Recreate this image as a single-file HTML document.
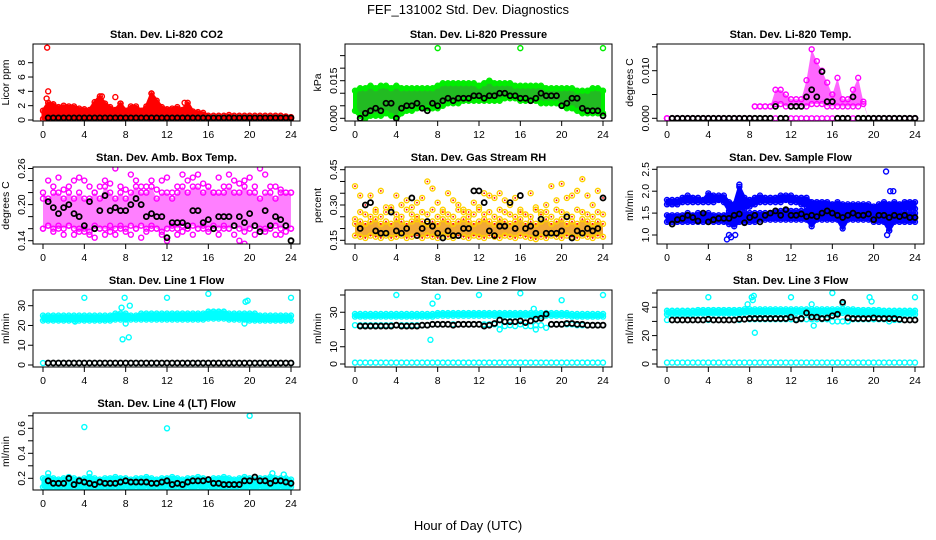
<!DOCTYPE html>
<html><head><meta charset="utf-8"><style>
html,body{margin:0;padding:0;background:#fff;}
svg{display:block;font-family:"Liberation Sans",Arial,sans-serif;}
</style></head><body>
<svg id="chart" width="936" height="540" viewBox="0 0 936 540" xmlns="http://www.w3.org/2000/svg">
<rect width="936" height="540" fill="#fff"/>
<text x="468" y="14" text-anchor="middle" font-size="13">FEF_131002  Std. Dev. Diagnostics</text>
<text x="468" y="530" text-anchor="middle" font-size="13">Hour of Day (UTC)</text>
</svg>
<script>
const H=[0,0.5,1,1.5,2,2.5,3,3.5,4,4.5,5,5.5,6,6.5,7,7.5,8,8.5,9,9.5,10,10.5,11,11.5,12,12.5,13,13.5,14,14.5,15,15.5,16,16.5,17,17.5,18,18.5,19,19.5,20,20.5,21,21.5,22,22.5,23,23.5,24];
const xTicks=[0,4,8,12,16,20,24];
// CO2
const co2Hi=[1.3,2.4,2.2,1.8,2.0,1.9,1.9,1.6,1.5,1.4,2.5,3.3,2.3,1.8,1.4,2.3,1.3,1.9,1.9,1.3,1.9,3.7,2.7,1.8,1.5,1.6,1.8,1.4,2.4,1.2,1.1,1.0,0.6,0.6,0.6,0.6,0.7,0.6,0.6,0.6,0.6,0.6,0.6,0.6,0.6,0.6,0.6,0.5,0.4];
const co2Lo=[0.15,0.15,0.15,0.15,0.15,0.15,0.15,0.15,0.15,0.15,0.15,0.15,0.15,0.15,0.15,0.15,0.15,0.15,0.15,0.15,0.15,0.15,0.15,0.15,0.15,0.15,0.15,0.15,0.15,0.15,0.15,0.15,0.15,0.15,0.15,0.15,0.15,0.15,0.15,0.15,0.15,0.15,0.15,0.15,0.15,0.15,0.15,0.15,0.15];
const co2Blk=[0.3,0.3,0.3,0.3,0.3,0.3,0.3,0.3,0.3,0.3,0.3,0.3,0.3,0.3,0.3,0.3,0.3,0.3,0.3,0.3,0.3,0.3,0.3,0.3,0.3,0.3,0.3,0.3,0.3,0.3,0.3,0.3,0.3,0.3,0.3,0.3,0.3,0.3,0.3,0.3,0.3,0.3,0.3,0.3,0.3,0.3,0.3,0.3,0.3];
const co2OutX=[0.4,0.5,0.35,5.7,7.0,10.5,13.7,5.3,7.5];
const co2OutY=[10.1,4.0,3.0,3.3,3.2,3.7,2.4,2.5,2.3];
// Pressure
const presHi=[0.011,0.012,0.012,0.013,0.012,0.013,0.013,0.012,0.013,0.012,0.012,0.012,0.012,0.012,0.012,0.012,0.013,0.014,0.014,0.014,0.014,0.014,0.014,0.014,0.013,0.014,0.015,0.014,0.014,0.014,0.014,0.013,0.013,0.013,0.013,0.013,0.013,0.012,0.012,0.012,0.012,0.012,0.012,0.011,0.011,0.011,0.012,0.012,0.011];
const presLo=[0.003,0.001,0.000,0.001,0.001,0.001,0.002,0.001,0.000,0.002,0.003,0.003,0.004,0.004,0.004,0.004,0.004,0.005,0.006,0.006,0.006,0.007,0.007,0.007,0.007,0.007,0.007,0.007,0.007,0.008,0.008,0.008,0.007,0.007,0.007,0.007,0.006,0.006,0.006,0.006,0.005,0.004,0.004,0.003,0.002,0.002,0.002,0.002,0.002];
const presBlk=[0.003,0.000,0.002,0.003,0.004,0.003,0.006,0.006,0.000,0.004,0.005,0.005,0.006,0.004,0.003,0.006,0.005,0.007,0.008,0.007,0.008,0.008,0.008,0.009,0.009,0.008,0.009,0.009,0.010,0.010,0.009,0.009,0.008,0.008,0.007,0.008,0.010,0.009,0.009,0.009,0.005,0.006,0.008,0.008,0.004,0.003,0.003,0.003,0.001];
const presOutX=[8,16,24];
const presOutY=[0.028,0.028,0.028];
// Li-820 temp
const tHi=[0,0,0,0,0,0,0,0,0,0,0,0,0,0,0,0,0,0.0025,0.0025,0.0025,0.0025,0.006,0.006,0.005,0.004,0.004,0.004,0.008,0.0145,0.012,0.01,0.0075,0.005,0.0085,0.004,0.004,0.006,0.0085,0.0035,0,0,0,0,0,0,0,0,0,0];
const tLo=[0,0,0,0,0,0,0,0,0,0,0,0,0,0,0,0,0,0.0025,0.0025,0.0025,0.0025,0.003,0.003,0.0025,0.0025,0.0025,0.0025,0.0025,0.003,0.003,0.003,0.0025,0.0025,0.0025,0.0025,0.0025,0.0025,0.0025,0.003,0,0,0,0,0,0,0,0,0,0];
const tZero=[0,0,0,0,0,0,0,0,0,0,0,0,0,0,0,0,0,0,0,0,0,0,0,0,0,0,0,0,0,0,0,0,0,0,0,0,0,0,0,0,0,0,0,0,0,0,0,0,0];
const tBlk=[0,0,0,0,0,0,0,0,0,0,0,0,0,0,0,0,0,0,0,0,0,0.0025,0,0,0.0025,0.0025,0.0025,0.0045,0.006,0.0045,0.0098,0.0035,0.0035,0,0,0,0.0045,0,0,0,0,0,0,0,0,0,0,0,0];
// Amb box temp
const ambHi=[0.22,0.21,0.22,0.22,0.21,0.22,0.21,0.22,0.21,0.21,0.22,0.21,0.23,0.22,0.21,0.22,0.21,0.22,0.23,0.22,0.22,0.23,0.21,0.22,0.22,0.21,0.22,0.23,0.22,0.23,0.23,0.22,0.23,0.22,0.22,0.22,0.23,0.22,0.22,0.23,0.22,0.22,0.21,0.22,0.22,0.21,0.22,0.22,0.22];
const ambLo=[0.16,0.165,0.16,0.165,0.16,0.165,0.16,0.155,0.16,0.155,0.165,0.16,0.16,0.155,0.16,0.165,0.16,0.165,0.16,0.165,0.16,0.165,0.16,0.155,0.16,0.165,0.16,0.165,0.16,0.165,0.16,0.165,0.16,0.165,0.16,0.165,0.16,0.165,0.16,0.155,0.16,0.165,0.16,0.155,0.16,0.165,0.16,0.165,0.16];
const ambTop=[0.21,0.24,0.23,0.245,0.225,0.23,0.24,0.245,0.24,0.23,0.22,0.23,0.24,0.235,0.26,0.23,0.225,0.25,0.24,0.23,0.23,0.24,0.225,0.24,0.245,0.22,0.23,0.25,0.24,0.245,0.25,0.235,0.23,0.22,0.245,0.23,0.25,0.24,0.235,0.24,0.245,0.23,0.26,0.25,0.23,0.23,0.225,0.22,0.22];
const ambBot=[0.16,0.165,0.155,0.16,0.15,0.165,0.15,0.16,0.155,0.15,0.145,0.16,0.15,0.165,0.15,0.16,0.155,0.15,0.16,0.145,0.155,0.16,0.16,0.15,0.14,0.16,0.15,0.155,0.16,0.15,0.16,0.16,0.155,0.16,0.15,0.16,0.16,0.15,0.14,0.135,0.16,0.15,0.155,0.16,0.16,0.15,0.15,0.155,0.16];
const ambBlk=[0.18,0.205,0.195,0.185,0.195,0.2,0.185,0.18,0.165,0.205,0.16,0.19,0.215,0.19,0.195,0.19,0.19,0.2,0.21,0.2,0.18,0.185,0.18,0.18,0.145,0.17,0.17,0.17,0.165,0.19,0.19,0.17,0.175,0.16,0.18,0.18,0.18,0.165,0.18,0.17,0.185,0.165,0.155,0.19,0.165,0.18,0.175,0.165,0.14];
// Gas stream RH
const rhHi=[0.22,0.23,0.22,0.23,0.24,0.22,0.23,0.22,0.24,0.23,0.22,0.23,0.24,0.23,0.22,0.23,0.22,0.24,0.23,0.22,0.23,0.24,0.23,0.22,0.23,0.24,0.23,0.22,0.24,0.23,0.22,0.23,0.24,0.22,0.23,0.22,0.23,0.24,0.22,0.23,0.24,0.22,0.23,0.22,0.24,0.23,0.22,0.23,0.22];
const rhLo=[0.17,0.165,0.16,0.17,0.165,0.16,0.17,0.16,0.165,0.17,0.16,0.165,0.17,0.16,0.17,0.165,0.16,0.17,0.165,0.16,0.17,0.165,0.16,0.17,0.165,0.16,0.17,0.165,0.16,0.17,0.165,0.16,0.17,0.165,0.16,0.155,0.165,0.16,0.17,0.165,0.16,0.17,0.165,0.16,0.17,0.165,0.16,0.17,0.165];
const rhTop=[0.38,0.34,0.3,0.34,0.27,0.36,0.29,0.28,0.34,0.3,0.32,0.29,0.31,0.33,0.4,0.37,0.31,0.28,0.35,0.32,0.3,0.28,0.27,0.31,0.29,0.35,0.34,0.33,0.35,0.32,0.3,0.33,0.28,0.26,0.35,0.29,0.27,0.3,0.38,0.32,0.39,0.33,0.34,0.36,0.41,0.34,0.3,0.36,0.33];
const rhMid=[0.24,0.27,0.26,0.25,0.28,0.25,0.27,0.29,0.26,0.25,0.28,0.26,0.25,0.27,0.26,0.28,0.25,0.27,0.26,0.25,0.28,0.27,0.25,0.26,0.28,0.26,0.27,0.25,0.28,0.27,0.26,0.25,0.27,0.26,0.25,0.28,0.26,0.27,0.25,0.28,0.27,0.26,0.25,0.28,0.27,0.26,0.25,0.27,0.26];
const rhBlk=[0.2,0.2,0.3,0.31,0.19,0.18,0.18,0.27,0.19,0.18,0.2,0.33,0.17,0.2,0.23,0.21,0.18,0.16,0.19,0.17,0.17,0.2,0.2,0.36,0.36,0.31,0.19,0.17,0.21,0.21,0.31,0.2,0.34,0.2,0.21,0.18,0.24,0.18,0.18,0.18,0.19,0.25,0.16,0.19,0.18,0.2,0.19,0.2,0.33];
// Sample flow
const sfHi=[1.8,1.8,1.8,1.85,1.9,1.85,1.85,1.8,1.95,1.9,1.9,1.9,1.75,1.7,2.1,1.85,1.8,1.85,1.9,1.85,1.85,1.85,1.9,1.9,1.9,1.85,1.85,1.85,1.75,1.75,1.75,1.75,1.7,1.75,1.7,1.7,1.7,1.7,1.7,1.7,1.65,1.7,1.75,1.7,1.75,1.7,1.75,1.75,1.75];
const sfMid=[1.7,1.7,1.7,1.75,1.75,1.75,1.75,1.75,1.75,1.75,1.8,1.75,1.55,1.55,1.6,1.6,1.65,1.7,1.75,1.75,1.75,1.75,1.75,1.8,1.75,1.75,1.7,1.65,1.6,1.6,1.6,1.6,1.6,1.6,1.55,1.55,1.55,1.55,1.6,1.6,1.55,1.55,1.6,1.6,1.6,1.6,1.6,1.6,1.6];
const sfLoHi=[1.45,1.45,1.45,1.45,1.5,1.45,1.5,1.5,1.5,1.45,1.45,1.45,1.5,1.45,1.5,1.5,1.5,1.5,1.5,1.5,1.5,1.55,1.55,1.55,1.55,1.55,1.55,1.55,1.55,1.6,1.6,1.6,1.6,1.6,1.6,1.55,1.55,1.55,1.55,1.55,1.55,1.5,1.55,1.5,1.55,1.5,1.5,1.5,1.5];
const sfLoLo=[1.3,1.3,1.3,1.3,1.3,1.3,1.3,1.3,1.3,1.3,1.3,1.3,1.25,1.2,1.3,1.3,1.3,1.3,1.35,1.35,1.35,1.35,1.35,1.35,1.35,1.35,1.35,1.35,1.2,1.35,1.35,1.35,1.35,1.35,1.15,1.35,1.35,1.35,1.35,1.35,1.3,1.3,1.3,1.1,1.3,1.3,1.3,1.3,1.3];
const sfOutX=[5.8,6.0,6.2,6.6,7.0,21.2,21.3,21.6,21.9,21.5,22.0];
const sfOutY=[0.9,1.0,0.95,1.0,2.15,2.45,1.0,2.0,2.0,1.1,1.6];
const sfBlk=[1.4,1.25,1.35,1.38,1.45,1.4,1.32,1.5,1.3,1.35,1.38,1.38,1.38,1.45,1.48,1.28,1.4,1.45,1.3,1.45,1.5,1.55,1.45,1.58,1.45,1.45,1.48,1.42,1.45,1.42,1.5,1.55,1.5,1.45,1.4,1.45,1.5,1.45,1.45,1.48,1.35,1.45,1.45,1.4,1.45,1.42,1.45,1.4,1.4];
// Line 1
const l1Hi=[25,25,25,25,25,25,25,25,25,25,25,25,25,25,26,26,26,25,25,26,26,26,26,26,26,26,26,26,26,26,26,26,27,27,27,27,26,26,26,26,26,26,25,25,25,25,25,25,25];
const l1Lo=[22.5,22.5,22.5,22.5,22.5,22.5,22.5,22.5,22.5,22.5,22.5,22.5,22.5,22.5,23,23,23,23,23,23,23,23,23,23,23,23,23,23,23,23,23,23,23.5,23.5,23.5,23.5,23,23,23,23,22.5,22.5,22.5,22.5,22.5,22.5,22.5,22.5,22.5];
const l1Base=[1,1,1,1,1,1,1,1,1,1,1,1,1,1,1,1,1,1,1,1,1,1,1,1,1,1,1,1,1,1,1,1,1,1,1,1,1,1,1,1,1,1,1,1,1,1,1,1,1];
const l1Blk=[1,1,1,1,1,1,1,1,1,1,1,1,1,1,1,1,1,1,1,1,1,1,1,1,1,1,1,1,1,1,1,1,1,1,1,1,1,1,1,1,1,1,1,1,1,1,1,1,1];
const l1OutX=[4,7.6,7.9,8.0,8.4,7.7,8.3,12,16,19.6,19.8,24,3.1,19.5];
const l1OutY=[34,29,34,21,30,13,14,34,36,32,32.5,34,22,21];
// Line 2
const l2Hi=[29,29,29,29,29,29,29,29,29,29,29,29,29,29,29,29,29.5,29.5,29.5,29.5,29.5,29.5,29.5,29.5,29.5,29.5,29.5,29.5,29.5,29.5,29.5,29.5,29.5,29.5,29.5,29.5,29.5,29.5,29.5,29.5,29.5,29.5,29,29,29,29,29,29,29];
const l2Lo=[27.5,27.5,27.5,27.5,27.5,27.5,27.5,27.5,27.5,27.5,27.5,27.5,27.5,27.5,27.5,27.5,28,28,28,28,28,28,28,28,28,28,28,28,28,28,28,28,28,28,28,28,28,28,28,28,28,28,27.5,27.5,27.5,27.5,27.5,27.5,27.5];
const l2Cy2=[22.5,22.5,22.5,22.5,22.5,22.5,22.5,22.5,22.5,22.5,22.5,22.5,22.5,22.5,22.5,23,23,23,23,23,23,23,23,23,23,23,23,23,23,22,22.5,22,23,22,22,22.5,22.5,21,23,23,23,23,23,22.5,22.5,22.5,22.5,22.5,22.5];
const l2Base=[0.8,0.8,0.8,0.8,0.8,0.8,0.8,0.8,0.8,0.8,0.8,0.8,0.8,0.8,0.8,0.8,0.8,0.8,0.8,0.8,0.8,0.8,0.8,0.8,0.8,0.8,0.8,0.8,0.8,0.8,0.8,0.8,0.8,0.8,0.8,0.8,0.8,0.8,0.8,0.8,0.8,0.8,0.8,0.8,0.8,0.8,0.8,0.8,0.8];
const l2Blk=[22,22,22,22,22,22,22,22,22.5,22,22,22,22,22.5,22.5,23,23,23,23,22.5,23,23,23,23,23,22,22.5,23.5,25.5,24.5,24.5,24.5,25,24,25,26,26.5,29,23,23,23,23.5,23.5,23,23,22.5,22.5,22.5,22.5];
const l2OutX=[4,7.5,7.3,8,12,16,17.3,20,24,14,17.5];
const l2OutY=[40,35,14,39,40,41,32,37,40,20,20];
// Line 3
const l3Hi=[37.5,37.5,37.5,37.5,37.5,37.5,38,38,38,38,38,38,38,38,38,38.5,38.5,38.5,38.5,38.5,38.5,38.5,38.5,38.5,38.5,38.5,38.5,38.5,38.5,38.5,38.5,38.5,38.5,38.5,38.5,38.5,38.5,38,38,38,38,38,37.5,37.5,37.5,37.5,37.5,37.5,37.5];
const l3Lo=[35,35,35,35,35,35,35.5,35.5,35.5,35.5,35.5,35.5,35.5,35.5,35.5,36,36,36,36,36,36,36,36,36,36,36,36,36,36,36,36,36,36,36,36,36,36,35.5,35.5,35.5,35.5,35.5,35,35,35,35,35,35,35];
const l3Cy2=[31,31,31,31,31,31,31,31,31,31,31,31,31,31,31,31.5,31.5,31.5,31.5,31.5,31.5,31.5,31.5,31.5,31.5,31.5,31.5,31.5,31.5,31.5,31.5,31.5,30,30,30,30,31.5,31.5,31.5,31.5,31.5,31.5,31.5,30,31,31,31,31,31];
const l3Base=[1,1,1,1,1,1,1,1,1,1,1,1,1,1,1,1,1,1,1,1,1,1,1,1,1,1,1,1,1,1,1,1,1,1,1,1,1,1,1,1,1,1,1,1,1,1,1,1,1];
const l3Blk=[31,31,31,31,31,31,31,31,31.5,31,31,31,31,31,31.5,31.5,32,32,32,32,32,32,32,32,33,31,32,36,33,33,32,32.5,34,35,43.5,32.5,32,32,32,32,32.5,32,32,32,32,31.5,31,31,31];
const l3OutX=[4,7.8,8.2,8.4,8.5,8.3,12,14,14.2,16,17,17.5,19.6,19.8,24];
const l3OutY=[47,42,47,48,22,45,47,42,27,50,42,30,47,44,47];
// Line 4 (LT)
const ltHi=[0.2,0.21,0.2,0.19,0.2,0.21,0.2,0.19,0.2,0.21,0.2,0.19,0.2,0.2,0.21,0.2,0.2,0.19,0.2,0.2,0.21,0.2,0.19,0.2,0.2,0.21,0.2,0.19,0.2,0.2,0.21,0.2,0.19,0.2,0.2,0.21,0.2,0.19,0.2,0.21,0.2,0.19,0.2,0.2,0.21,0.2,0.2,0.2,0.19];
const ltLo=[0.13,0.12,0.13,0.12,0.13,0.12,0.13,0.12,0.13,0.12,0.13,0.12,0.13,0.12,0.13,0.12,0.13,0.12,0.13,0.12,0.13,0.12,0.13,0.12,0.13,0.12,0.13,0.12,0.13,0.12,0.13,0.12,0.13,0.12,0.13,0.12,0.13,0.12,0.13,0.12,0.13,0.12,0.13,0.12,0.13,0.12,0.13,0.12,0.13];
const ltBlk=[0.17,0.18,0.16,0.16,0.16,0.2,0.15,0.18,0.17,0.16,0.15,0.17,0.16,0.16,0.16,0.17,0.18,0.17,0.17,0.17,0.17,0.16,0.16,0.17,0.18,0.15,0.16,0.15,0.17,0.18,0.18,0.18,0.19,0.16,0.16,0.15,0.15,0.15,0.15,0.18,0.18,0.21,0.18,0.18,0.16,0.18,0.18,0.17,0.16];
const ltOutX=[4,12,20,0.5,4.5,22.2,23.3];
const ltOutY=[0.61,0.6,0.7,0.24,0.24,0.24,0.23];

const NS="http://www.w3.org/2000/svg";
const svg=document.getElementById('chart');
function mk(tag,attrs,parent){const e=document.createElementNS(NS,tag);for(const k in attrs)e.setAttribute(k,attrs[k]);(parent||svg).appendChild(e);return e;}

const W=267,HT=77;
const panels=[
 {name:'li820-co2',title:'Stan. Dev. Li-820 CO2',yl:'Licor ppm',col:0,row:0,v0:0,p0:76,v1:8,p1:18.7,ticks:[0,2,4,6,8],labels:['0','2','4','6','8'],color:'#ff0000',fill:'#ff0000',op:1,sw:3,bands:[[co2Hi,co2Lo]],pts:[co2Hi,co2Lo],blk:co2Blk,outX:co2OutX,outY:co2OutY},
 {name:'li820-pressure',title:'Stan. Dev. Li-820 Pressure',yl:'kPa',col:1,row:0,v0:0,p0:74.3,v1:0.015,p1:36.7,ticks:[0,0.005,0.01,0.015,0.02,0.025],labels:['0.000','','','0.015','',''],color:'#00ee00',fill:'#22bb22',op:1,sw:4,bands:[[presHi,presLo]],pts:[presHi,presLo],blk:presBlk,outX:presOutX,outY:presOutY},
 {name:'li820-temp',title:'Stan. Dev. Li-820 Temp.',yl:'degrees C',col:2,row:0,v0:0,p0:74.3,v1:0.01,p1:26.7,ticks:[0,0.005,0.01,0.015],labels:['0.000','','0.010',''],color:'#ff00ff',fill:'#ff00ff',op:0.6,sw:0,bands:[[tHi,tLo]],pts:[tHi,tLo,tZero],blk:tBlk,outX:[],outY:[]},
 {name:'amb-box-temp',title:'Stan. Dev. Amb. Box Temp.',yl:'degrees C',col:0,row:1,v0:0.14,p0:73.7,v1:0.26,p1:1.5,ticks:[0.14,0.16,0.18,0.2,0.22,0.24,0.26],labels:['0.14','','','0.20','','','0.26'],color:'#ff00ff',fill:'#ff00ff',op:0.5,sw:0,bands:[[ambHi,ambLo]],pts:[ambHi,ambLo,ambTop,ambBot],blk:ambBlk,outX:[],outY:[]},
 {name:'gas-stream-rh',title:'Stan. Dev. Gas Stream RH',yl:'percent',col:1,row:1,v0:0.15,p0:73.3,v1:0.45,p1:2.7,ticks:[0.15,0.2,0.25,0.3,0.35,0.4,0.45],labels:['0.15','','','0.30','','','0.45'],color:'#ffd000',fill:'#f0a020',op:0.9,sw:0,bands:[[rhHi,rhLo]],pts:[rhHi,rhLo,rhTop,rhMid],blk:rhBlk,outX:[],outY:[]},
 {name:'sample-flow',title:'Stan. Dev. Sample Flow',yl:'ml/min',col:2,row:1,v0:1.0,p0:68,v1:2.5,p1:2.3,ticks:[1,1.5,2,2.5],labels:['1.0','1.5','2.0','2.5'],color:'#0000ff',fill:'#0000ff',op:1,sw:3,bands:[[sfHi,sfMid],[sfLoHi,sfLoLo]],pts:[sfHi,sfMid,sfLoHi,sfLoLo],blk:sfBlk,outX:sfOutX,outY:sfOutY},
 {name:'line1-flow',title:'Stan. Dev. Line 1 Flow',yl:'ml/min',col:0,row:2,v0:0,p0:75,v1:30,p1:15.7,ticks:[0,10,20,30],labels:['0','10','20','30'],color:'#00ffff',fill:'#00ffff',op:1,sw:3,bands:[[l1Hi,l1Lo]],pts:[l1Hi,l1Lo,l1Base],blk:l1Blk,outX:l1OutX,outY:l1OutY},
 {name:'line2-flow',title:'Stan. Dev. Line 2 Flow',yl:'ml/min',col:1,row:2,v0:0,p0:74,v1:40,p1:5,ticks:[0,10,20,30,40],labels:['0','10','','30',''],color:'#00ffff',fill:'#00ffff',op:1,sw:3,bands:[[l2Hi,l2Lo]],pts:[l2Hi,l2Lo,l2Base,l2Cy2],blk:l2Blk,outX:l2OutX,outY:l2OutY},
 {name:'line3-flow',title:'Stan. Dev. Line 3 Flow',yl:'ml/min',col:2,row:2,v0:0,p0:74,v1:50,p1:3,ticks:[0,10,20,30,40,50],labels:['0','','20','','40',''],color:'#00ffff',fill:'#00ffff',op:1,sw:3,bands:[[l3Hi,l3Lo]],pts:[l3Hi,l3Lo,l3Base,l3Cy2],blk:l3Blk,outX:l3OutX,outY:l3OutY},
 {name:'line4-lt-flow',title:'Stan. Dev. Line 4 (LT) Flow',yl:'ml/min',col:0,row:3,v0:0.2,p0:65.3,v1:0.6,p1:15.3,ticks:[0.2,0.3,0.4,0.5,0.6,0.7],labels:['0.2','','0.4','','0.6',''],color:'#00ffff',fill:'#00ffff',op:1,sw:3,bands:[[ltHi,ltLo]],pts:[ltHi,ltLo],blk:ltBlk,outX:ltOutX,outY:ltOutY}
];
const colLeft=[33,345,657],rowTop=[44,167,290,413];

panels.forEach(p=>{
  const L=colLeft[p.col],T=rowTop[p.row];
  const g=mk('g',{});
  
  
  const xs=h=>L+10+h*(248/24);
  const ys=v=>T+p.p0+(v-p.v0)*(p.p1-p.p0)/(p.v1-p.v0);
  const cp='clip-'+p.name;
  const cl=mk('clipPath',{id:cp},g);mk('rect',{x:L,y:T,width:W,height:HT},cl);
  const data=mk('g',{'clip-path':'url(#'+cp+')'},g);
  
  
  p.bands.forEach(b=>{
    let pts=H.map((h,i)=>xs(h)+','+ys(b[0][i]));
    for(let i=H.length-1;i>=0;i--)pts.push(xs(H[i])+','+ys(b[1][i]));
    const at={points:pts.join(' '),fill:p.fill,'fill-opacity':p.op};
    if(p.sw){at.stroke=p.color;at['stroke-width']=p.sw;at['stroke-linejoin']='round';}else{at.stroke='none';}
    const poly=mk('polygon',at,data);
    
    
  });
  const circ=(x,y,col,extra,sw)=>{const c=mk('circle',{cx:x,cy:y,r:2.5,fill:'none',stroke:col,'stroke-width':sw||1.4},data);
    
    return c;};
  p.pts.forEach(arr=>H.forEach((h,i)=>{circ(xs(h),ys(arr[i]),p.color,'point');
    if(p.name==='gas-stream-rh')mk('circle',{cx:xs(h),cy:ys(arr[i]),r:0.9,fill:'#ff0000'},data);}));
  p.outX.forEach((x,i)=>circ(xs(x),ys(p.outY[i]),p.color,'outlier-point'));
  H.forEach((h,i)=>{if(i===0)return;circ(xs(h),ys(p.blk[i]),'#000','black-point',1.8);});
  const box=mk('rect',{x:L,y:T,width:W,height:HT,fill:'none',stroke:'#000','stroke-width':1},g);
  
  
  const t=mk('text',{x:L+W/2,y:T-6,'text-anchor':'middle','font-size':11,'font-weight':'bold'},g);
  t.textContent=p.title;
  
  
  mk('line',{x1:xs(0),x2:xs(24),y1:T+HT,y2:T+HT,stroke:'#000'},g);
  xTicks.forEach(v=>{
    mk('line',{x1:xs(v),x2:xs(v),y1:T+HT,y2:T+HT+5,stroke:'#000'},g);
    const tl=mk('text',{x:xs(v),y:T+HT+17,'text-anchor':'middle','font-size':10.5},g);
    tl.textContent=v;
    
    
  });
  mk('line',{x1:L,x2:L,y1:ys(p.ticks[0]),y2:ys(p.ticks[p.ticks.length-1]),stroke:'#000'},g);
  p.ticks.forEach((v,i)=>{
    const y=ys(v);
    mk('line',{x1:L-5,x2:L,y1:y,y2:y,stroke:'#000'},g);
    if(p.labels[i]){
      const tl=mk('text',{x:L-8,y:y,'text-anchor':'middle','font-size':10.5,transform:'rotate(-90 '+(L-8)+' '+y+')'},g);
      tl.textContent=p.labels[i];
      
      
    }
  });
  const yc=T+HT/2,yx=L-24;
  const yt=mk('text',{x:yx,y:yc,'text-anchor':'middle','font-size':10.5,transform:'rotate(-90 '+yx+' '+yc+')'},g);
  yt.textContent=p.yl;
  
  
});
</script>
</body></html>
